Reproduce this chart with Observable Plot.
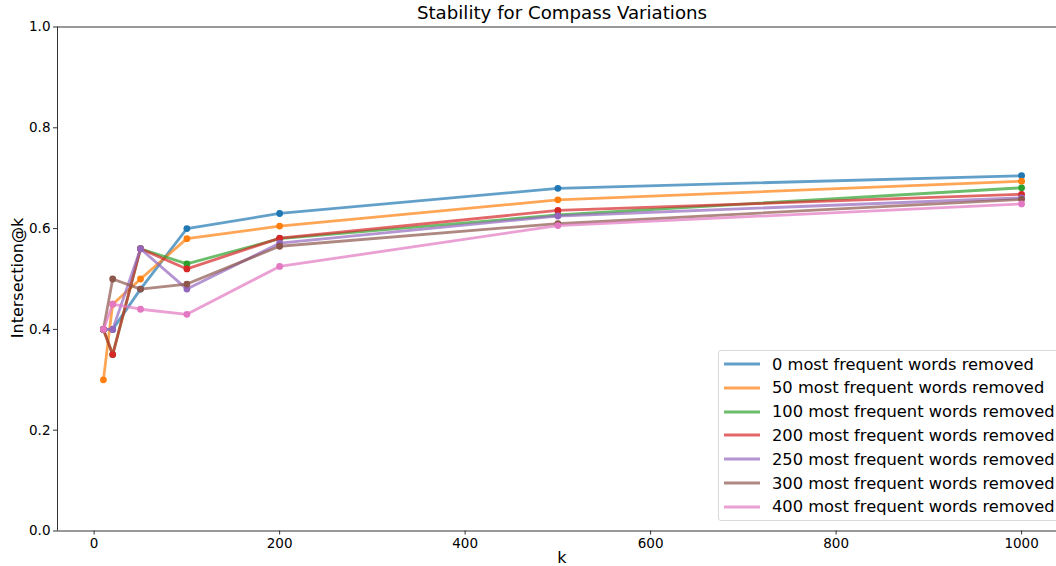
<!DOCTYPE html>
<html>
<head>
<meta charset="utf-8">
<script src="https://cdn.jsdelivr.net/npm/d3@7"></script>
<script src="https://cdn.jsdelivr.net/npm/@observablehq/plot@0.6"></script>
<style>
  html, body { margin: 0; padding: 0; background: #fff; }
  #wrap { position: relative; width: 1056px; height: 566px; overflow: hidden; font-family: "DejaVu Sans", sans-serif; }
  #chart svg text { font-size: 13.5px !important; fill: #000; }
  #title { position: absolute; left: 0; width: 1124px; top: 4px; text-align: center; font-size: 18.2px; color: #000; line-height: 1; }
  #xlabel { position: absolute; left: 0; width: 1124px; top: 550px; text-align: center; font-size: 16px; color: #000; line-height: 1; }
  #ylabel { position: absolute; left: 18px; top: 278px; font-size: 16px; color: #000; line-height: 1; white-space: nowrap; transform: translate(-50%, -50%) rotate(-90deg); }
  #legend { position: absolute; left: 718px; top: 350px; width: 360px; height: 171px; border: 1px solid #d9d9d9; border-radius: 3px; background: rgba(255,255,255,0.8); box-sizing: border-box; }
  .row { position: absolute; left: 0; height: 20px; display: flex; align-items: center; font-size: 16.3px; color: #000; white-space: nowrap; }
  .row svg { margin-left: 5px; margin-right: 12px; }
</style>
</head>
<body>
<div id="wrap">
  <div id="chart"></div>
  <div id="title">Stability for Compass Variations</div>
  <div id="xlabel">k</div>
  <div id="ylabel">Intersection@k</div>
  <div id="legend"></div>
</div>
<script>
const kValues = [10, 20, 50, 100, 200, 500, 1000];
const seriesNames = [
  "0 most frequent words removed",
  "50 most frequent words removed",
  "100 most frequent words removed",
  "200 most frequent words removed",
  "250 most frequent words removed",
  "300 most frequent words removed",
  "400 most frequent words removed"
];
const removed0   = [0.40, 0.40, 0.48, 0.60, 0.63,  0.680, 0.705];
const removed50  = [0.30, 0.45, 0.50, 0.58, 0.605, 0.657, 0.694];
const removed100 = [0.40, 0.35, 0.56, 0.53, 0.58,  0.627, 0.681];
const removed200 = [0.40, 0.35, 0.56, 0.52, 0.581, 0.636, 0.668];
const removed250 = [0.40, 0.40, 0.56, 0.48, 0.571, 0.625, 0.661];
const removed300 = [0.40, 0.50, 0.48, 0.49, 0.565, 0.610, 0.658];
const removed400 = [0.40, 0.45, 0.44, 0.43, 0.525, 0.606, 0.649];
const seriesValues = [removed0, removed50, removed100, removed200, removed250, removed300, removed400];
const colors = ["#1f77b4", "#ff7f0e", "#2ca02c", "#d62728", "#9467bd", "#8c564b", "#e377c2"];
const xTicks = [0, 200, 400, 600, 800, 1000];
const yTicks = [0, 0.2, 0.4, 0.6, 0.8, 1.0];

const marks = [];
seriesNames.forEach((name, i) => {
  const rows = kValues.map((k, j) => ({k, v: seriesValues[i][j], series: name}));
  marks.push(Plot.line(rows, {x: "k", y: "v", stroke: colors[i], strokeWidth: 2.8, strokeOpacity: 0.7, strokeLinejoin: "round", strokeLinecap: "round"}));
  marks.push(Plot.dot(rows, {x: "k", y: "v", fill: colors[i], r: 3.4, stroke: "none"}));
});

const chart = Plot.plot({
  width: 1056,
  height: 566,
  marginLeft: 57,
  marginTop: 26.5,
  marginBottom: 35.5,
  marginRight: 0,
  style: {fontFamily: "DejaVu Sans, sans-serif", fontSize: "13.5px", color: "#000", background: "#fff", overflow: "hidden"},
  x: {domain: [-39.5, 1049.5], range: [57, 1067]},
  y: {domain: [0, 1], range: [530.5, 26.5]},
  marks: [
    Plot.ruleY([0], {stroke: "#333", strokeWidth: 1}),
    Plot.ruleY([1], {stroke: "#333", strokeWidth: 1}),
    Plot.ruleX([-39.5], {stroke: "#333", strokeWidth: 1}),
    Plot.axisX({ticks: xTicks, tickSize: 4, tickPadding: 3, tickFormat: d3.format("d"), label: null, stroke: "#333"}),
    Plot.axisY({ticks: yTicks, tickSize: 4, tickPadding: 3, tickFormat: d3.format(".1f"), label: null, stroke: "#333"}),
    ...marks
  ]
});
document.getElementById("chart").appendChild(chart);

const legend = document.getElementById("legend");
seriesNames.forEach((name, i) => {
  const row = document.createElement("div");
  row.className = "row";
  row.style.top = (3 + i * 23.8) + "px";
  row.innerHTML = `<svg width="36" height="6"><line x1="0" y1="3" x2="36" y2="3" stroke="${colors[i]}" stroke-opacity="0.7" stroke-width="3"/></svg><span>${name}</span>`;
  legend.appendChild(row);
});
</script>
</body>
</html>
